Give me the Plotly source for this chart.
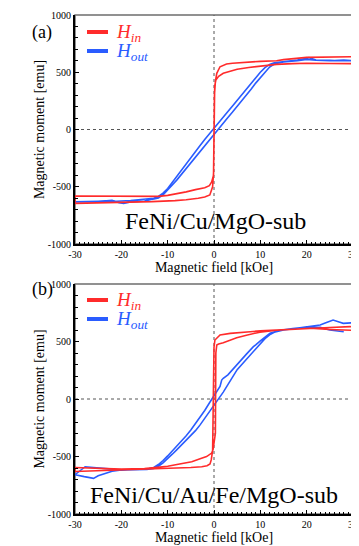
import plotly.graph_objects as go

# ---------------- data ----------------
# Panel (a) FeNi/Cu/MgO-sub, H_in (red): descending branch then ascending branch
a_in_x = [30, 25, 20, 15, 13.5, 10, 6.3, 4, 2.7, 1.3, 0.6, 0.3, 0.1, -0.1, -0.3, -0.9, -2, -3.4, -6, -8.4, -13.4, -20, -25, -30,
          -30, -25, -20, -15, -12, -10, -8, -6, -4, -2, -1, -0.5, -0.1, 0.15, 0.4, 1, 2, 3.5, 5, 7.5, 10, 13.5, 17, 20, 25, 30]
a_in_y = [636, 634, 630, 610, 601, 595, 587, 578, 572, 548, 491, 420, 300, -380, -500, -572, -590, -601, -613, -621, -630, -635, -638, -645,
          -581, -582, -585, -588, -584, -575, -563, -545, -525, -508, -490, -458, -400, 380, 432, 465, 491, 512, 526, 542, 555, 569, 575, 578, 576, 575]

# Panel (a), H_out (blue): descending then ascending
a_out_x = [30, 27, 25, 22, 20.5, 20, 18, 15.5, 13, 12, 11, 10, 9, 8, 7, 6, 5, 4, 3, 2, 1, 0, -1, -2, -3, -4, -5, -6, -7, -8, -9, -10, -11, -12, -13, -15, -18, -20, -22, -25, -28, -30,
           -28, -25, -22, -20.5, -19.5, -18, -15, -13, -12, -11, -10, -9, -8, -7, -6, -5, -4, -3, -2, -1, 0, 1, 2, 3, 4, 5, 6, 7, 8, 9, 10, 11, 12, 13, 15, 18, 20, 22, 25, 28, 30]
a_out_y = [603, 600, 605, 607, 628, 622, 607, 595, 582, 568, 540, 500, 450, 398, 348, 300, 252, 205, 158, 110, 62, 15, -35, -88, -140, -195, -250, -300, -355, -410, -465, -515, -555, -585, -600, -610, -620, -625, -630, -628, -632, -632,
           -633, -630, -618, -640, -645, -632, -625, -610, -598, -570, -530, -485, -440, -390, -340, -290, -240, -190, -140, -88, -35, 10, 58, 105, 152, 200, 250, 300, 352, 405, 455, 505, 545, 572, 590, 600, 612, 605, 600, 606, 600]

# Panel (b) FeNi/Cu/Au/Fe/MgO-sub, H_in (red)
b_in_x = [30, 29.4, 25, 20.7, 13.5, 10, 7.8, 3.5, 1.3, 0.5, 0.2, 0, -0.2, -0.3, -0.6, -0.86, -1.5, -2.65, -5, -8.4, -13, -20, -25, -30,
          -30, -25, -20, -15, -12, -10, -8, -6, -4.8, -3, -1.6, -0.5, -0.2, 0.3, 0.4, 0.6, 1, 2, 3.5, 4.9, 7, 9.9, 13.5, 17, 20.7, 25, 29.4, 30]
b_in_y = [632, 629, 622, 615, 598, 592, 585, 571, 557, 530, 513, 450, -300, -450, -530, -565, -580, -589, -595, -600, -610, -620, -625, -630,
          -595, -600, -610, -605, -595, -585, -570, -553, -545, -520, -501, -470, -440, -300, 400, 470, 478, 490, 512, 532, 555, 581, 598, 608, 615, 605, 598, 597]

# Panel (b), H_out (blue)
b_out_x = [28, 27, 25, 22.9, 20, 19, 17, 15.7, 14, 12.1, 11, 10, 9, 8.5, 7, 6, 4.9, 4, 3, 2, 1.66, 1.3, 1, 0, -1, -2, -3, -4, -5, -6, -7, -8, -9, -10, -11, -12, -13, -14, -16, -18, -20, -22, -24, -26, -27.8, -30,
           -28, -26, -25, -22, -20, -18, -16, -14.5, -13, -12, -11, -10, -9, -8, -7, -6, -5, -4, -3, -2, -1, 0, 1, 2, 3, 4, 5, 6, 7, 8, 9, 10, 11, 12, 13, 15, 17, 19.3, 22.9, 24, 25.7, 27, 27.9, 30]
b_out_y = [585, 590, 600, 623, 625, 622, 612, 606, 595, 571, 540, 505, 470, 455, 390, 345, 296, 255, 210, 180, 165, 110, 90, 20, -35, -100, -160, -215, -270, -320, -365, -410, -455, -495, -535, -570, -595, -605, -612, -618, -620, -610, -600, -595, -589, -658,
           -675, -690, -668, -628, -617, -615, -617, -612, -605, -585, -555, -520, -480, -440, -400, -360, -320, -275, -225, -170, -110, -50, 5, 60, 125, 195, 255, 300, 345, 395, 440, 485, 525, 558, 580, 600, 610, 623, 643, 660, 687, 670, 658, 663]

x_ticks = [-30, -20, -10, 0, 10, 20, 30]
x_ticktext = ["-30", "-20", "-10", "0", "10", "20", "30"]
y_ticks = [-1000, -500, 0, 500, 1000]
y_ticktext = ["-1000", "-500", "0", "500", "1000"]

panel_labels = ["(a)", "(b)"]
sample_labels = ["FeNi/Cu/MgO-sub", "FeNi/Cu/Au/Fe/MgO-sub"]
series_names = ["<i>H</i><sub><i>in</i></sub>", "<i>H</i><sub><i>out</i></sub>"]

RED = "#ff2b2b"
BLUE = "#2a5cff"
FONT = "Liberation Serif"

# page has an 8px body margin: figure is drawn at (8, 8) in the screenshot
OFF = 8
W, H = 359 - OFF, 546 - OFF

def fx(px):
    return (px - OFF) / W

def fy(py):
    return 1 - (py - OFF) / H

# pixel geometry of plot areas (screenshot pixels)
X0, X1 = 75, 353
PANELS = [(15, 244), (284, 514)]
LEGEND_ROWS = [(32, 51), (300, 319)]
SAMPLE_POS = [(0.4, -800), (0.0, -835)]

fig = go.Figure()

data = [(a_in_x, a_in_y, a_out_x, a_out_y), (b_in_x, b_in_y, b_out_x, b_out_y)]

for i, (xin, yin, xout, yout) in enumerate(data):
    xa = "x" if i == 0 else "x2"
    ya = "y" if i == 0 else "y2"
    fig.add_trace(go.Scatter(x=xout, y=yout, mode="lines", line=dict(color=BLUE, width=1.6), name="H_out",
                             xaxis=xa, yaxis=ya, showlegend=False, hoverinfo="skip"))
    fig.add_trace(go.Scatter(x=xin, y=yin, mode="lines", line=dict(color=RED, width=1.6), name="H_in",
                             xaxis=xa, yaxis=ya, showlegend=False, hoverinfo="skip"))

axis_common = dict(showline=True, linecolor="black", linewidth=2, mirror=False, automargin=False,
                   showgrid=False, zeroline=False, ticks="inside", ticklen=4, tickwidth=1,
                   tickcolor="black", ticklabeloverflow="allow",
                   tickfont=dict(family=FONT, size=10, color="black"))

for i, (top, bot) in enumerate(PANELS):
    sx = "" if i == 0 else "2"
    fig.layout["xaxis" + sx] = dict(
        axis_common, domain=[fx(X0), fx(X1)], range=[-30, 30], anchor="y" + sx,
        tickmode="array", tickvals=x_ticks, ticktext=x_ticktext,
        minor=dict(tickmode="linear", tick0=0, dtick=1, ticks="inside", ticklen=2.5, tickcolor="black"),
        title=dict(text="Magnetic field [kOe]", font=dict(family=FONT, size=14, color="black"), standoff=1),
    )
    fig.layout["yaxis" + sx] = dict(
        axis_common, domain=[fy(bot), fy(top)], range=[-1000, 1000], anchor="x" + sx,
        tickmode="array", tickvals=y_ticks, ticktext=y_ticktext,
        minor=dict(tickmode="linear", tick0=0, dtick=100, ticks="inside", ticklen=2.5, tickcolor="black"),
        title=dict(text="Magnetic moment [emu]", font=dict(family=FONT, size=14, color="black"), standoff=0),
    )
    # grey frame and dotted zero lines
    fig.add_shape(type="rect", xref="x%s domain" % sx, yref="y%s domain" % sx, x0=0, x1=1, y0=0, y1=1,
                  line=dict(color="#6e6e6e", width=1.5), layer="below")
    fig.add_shape(type="line", xref="x" + sx, yref="y%s domain" % sx, x0=0, x1=0, y0=0, y1=1,
                  line=dict(color="#555555", width=1, dash="dot"), layer="below")
    fig.add_shape(type="line", xref="x%s domain" % sx, yref="y" + sx, x0=0, x1=1, y0=0, y1=0,
                  line=dict(color="#555555", width=1, dash="dot"), layer="below")
    # panel label and sample label
    fig.add_annotation(text=panel_labels[i], xref="paper", yref="paper", x=fx(30), y=fy(top + 5),
                       showarrow=False, font=dict(family=FONT, size=18, color="black"))
    sxp, syp = SAMPLE_POS[i]
    fig.add_annotation(text=sample_labels[i], xref="x" + sx, yref="y" + sx, x=sxp, y=syp,
                       showarrow=False, font=dict(family=FONT, size=24, color="black"))
    # legend keys
    for row_y, nm, col in zip(LEGEND_ROWS[i], series_names, [RED, BLUE]):
        fig.add_shape(type="line", xref="paper", yref="paper", x0=fx(87), x1=fx(108), y0=fy(row_y), y1=fy(row_y),
                      line=dict(color=col, width=4))
        fig.add_annotation(text=nm, xref="paper", yref="paper", x=fx(114), y=fy(row_y + 1),
                           xanchor="left", yanchor="middle", showarrow=False,
                           font=dict(family=FONT, size=19, color=col))

fig.update_layout(width=W, height=H, autosize=False, margin=dict(l=0, r=0, t=0, b=0),
                  plot_bgcolor="white", paper_bgcolor="white", showlegend=False,
                  font=dict(family=FONT, color="black"))

fig.write_html("out.html")
